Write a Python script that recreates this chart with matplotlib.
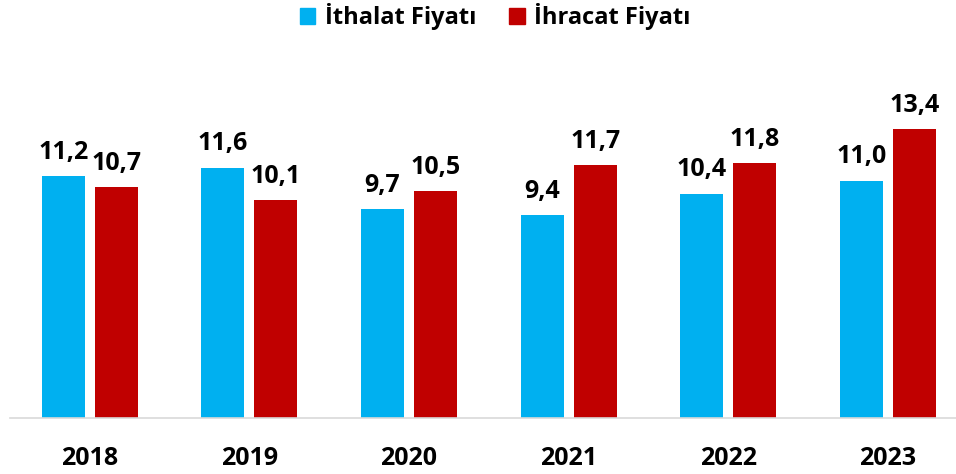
import matplotlib
matplotlib.use('Agg')
import matplotlib.pyplot as plt
import numpy as np
from matplotlib.patches import Patch

# Veriler
years = ['2018', '2019', '2020', '2021', '2022', '2023']
ithalat = [11.2, 11.6, 9.7, 9.4, 10.4, 11.0]
ihracat = [10.7, 10.1, 10.5, 11.7, 11.8, 13.4]

c_blue = '#00B0F0'
c_red = '#C00000'

plt.rcParams['font.family'] = ['Open Sans', 'DejaVu Sans']

fig = plt.figure(figsize=(9.56, 4.74), dpi=100)
# eksen sağ tarafı figürden taşıyor (orijinalde kırpılmış)
ax = fig.add_axes([10 / 956, 1 - 418 / 474, 957.6 / 956, (418 - 105) / 474])

x = np.arange(len(years))
w = 0.27
off = 0.166

b1 = ax.bar(x - off, ithalat, w, color=c_blue)
b2 = ax.bar(x + off, ihracat, w, color=c_red)

for bars, vals in [(b1, ithalat), (b2, ihracat)]:
    for b, v in zip(bars, vals):
        ax.annotate(f'{v:.1f}'.replace('.', ','),
                    (b.get_x() + b.get_width() / 2, v),
                    xytext=(0, 8), textcoords='offset points',
                    ha='center', va='bottom', fontsize=18, fontweight='bold',
                    annotation_clip=False)

ax.set_xlim(-0.5, len(years) - 0.5)
ax.set_ylim(0, 14.5)
ax.set_xticks(x)
ax.set_xticklabels(years, fontsize=18, fontweight='bold')
ax.tick_params(axis='x', length=0, pad=20)
ax.set_yticks([])
for s in ['top', 'right', 'left']:
    ax.spines[s].set_visible(False)
ax.spines['bottom'].set_color('#d9d9d9')
ax.spines['bottom'].set_linewidth(1.2)

handles = [Patch(color=c_blue), Patch(color=c_red)]
fig.legend(handles, ['İthalat Fiyatı', 'İhracat Fiyatı'],
           loc='center', bbox_to_anchor=(0.518, 1 - 17 / 474), ncol=2,
           frameon=False, prop={'size': 17, 'weight': 'bold'},
           handlelength=0.65, handleheight=0.65, handletextpad=0.4,
           columnspacing=1.4)

fig.savefig('out.png', dpi=100)
